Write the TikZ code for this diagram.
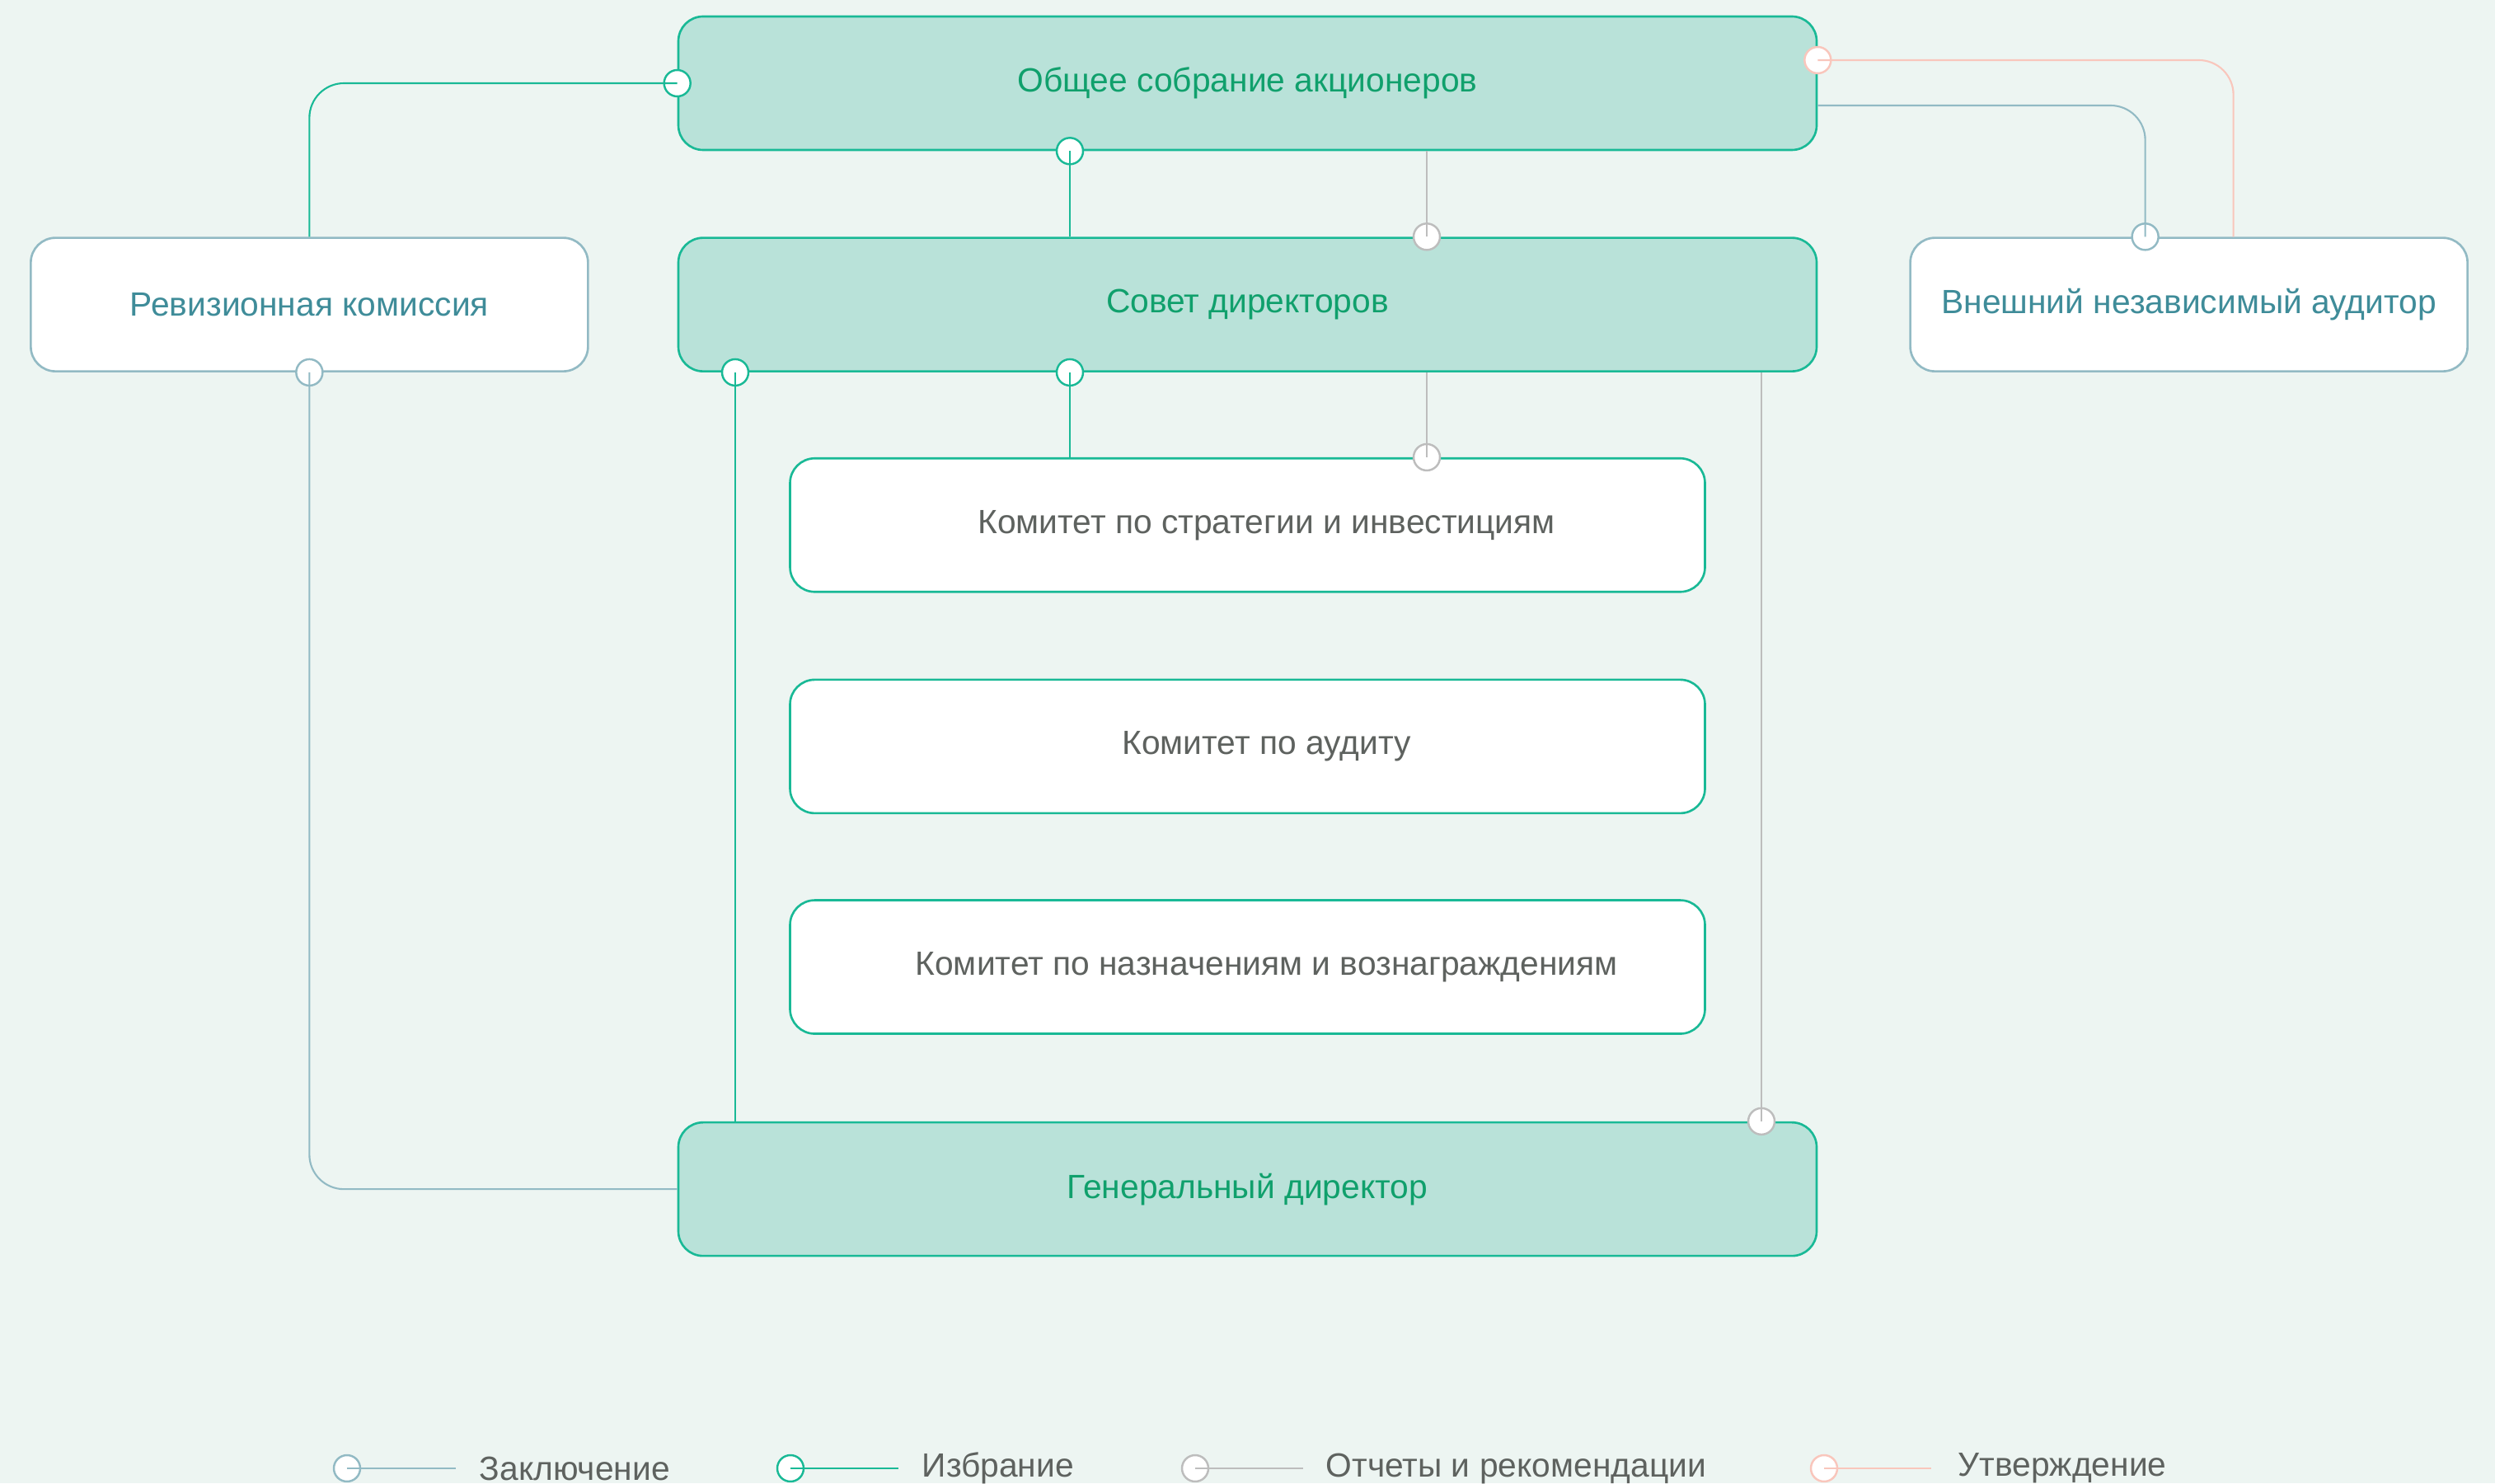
\documentclass[tikz,border=0pt]{standalone}
\usepackage{fontspec}
\setmainfont{Liberation Sans}
\usepackage{xcolor}
\usetikzlibrary{positioning, calc}

\definecolor{bgmint}{HTML}{EDF5F2}
\definecolor{boxfill}{HTML}{B9E2D9}
\definecolor{boxgreen}{HTML}{19B996}
\definecolor{txtgreen}{HTML}{10A06C}
\definecolor{txtblue}{HTML}{3F8C99}
\definecolor{txtgray}{HTML}{5E625F}
\definecolor{lineblue}{HTML}{92BAC4}
\definecolor{linegray}{HTML}{BDBDBD}
\definecolor{linepink}{HTML}{F9C6BC}

\begin{document}
\begin{tikzpicture}[
  node distance=1.03cm and 1.07cm,
  every node/.style={font=\fontsize{11.6}{14}\selectfont},
  mainbox/.style={rectangle, draw=boxgreen, line width=0.75pt, rounded corners=0.3cm, fill=boxfill, text=txtgreen, minimum width=13.81cm, minimum height=1.62cm},
  sidebox/.style={rectangle, draw=lineblue, line width=0.75pt, rounded corners=0.3cm, fill=white, text=txtblue, minimum width=6.76cm, minimum height=1.62cm},
  combox/.style={rectangle, draw=boxgreen, line width=0.75pt, rounded corners=0.3cm, fill=white, text=txtgray, minimum width=11.1cm, minimum height=1.62cm, execute at begin node=\hspace*{0.46cm}},
  endpt/.style={circle, fill=white, line width=0.7pt, minimum size=0.32cm, inner sep=0pt},
  concl/.style={draw=lineblue, line width=0.6pt, rounded corners=0.42cm},
  elect/.style={draw=boxgreen, line width=0.6pt, rounded corners=0.42cm},
  report/.style={draw=linegray, line width=0.6pt},
  approve/.style={draw=linepink, line width=0.6pt, rounded corners=0.42cm},
  legtext/.style={text=txtgray, inner sep=0pt},
]
  \fill[bgmint] (0,0) rectangle (30.27,18);
  \useasboundingbox (0,0) rectangle (30.27,18);

  \node[mainbox] (gsm) at (15.135,16.99) {Общее собрание акционеров};
  \node[mainbox, below=1.04cm of gsm] (board) {Совет директоров};
  \node[sidebox, left=of board] (revcom) {Ревизионная комиссия};
  \node[sidebox, right=1.11cm of board] (extaud) {Внешний независимый аудитор};

  \node[combox, below=of board] (strat) {Комитет по стратегии и инвестициям};
  \node[combox, below=1.04cm of strat] (audcom) {Комитет по аудиту};
  \node[combox, below=of audcom] (nomcom) {Комитет по назначениям и вознаграждениям};
  \node[mainbox, below=1.05cm of nomcom] (ceo) {Генеральный директор};

  % end points
  \node[endpt, draw=boxgreen] (eGsmW) at (gsm.west) {};
  \node[endpt, draw=boxgreen] (eGsmS) at ([xshift=-2.155cm]gsm.south) {};
  \node[endpt, draw=linegray] (eBoardN) at ([xshift=2.175cm]board.north) {};
  \node[endpt, draw=boxgreen] (eBoardSW) at ([xshift=-6.215cm]board.south) {};
  \node[endpt, draw=boxgreen] (eBoardS) at ([xshift=-2.155cm]board.south) {};
  \node[endpt, draw=linegray] (eStrat) at ([xshift=2.175cm]strat.north) {};
  \node[endpt, draw=linegray] (eCeo) at ([xshift=6.235cm]ceo.north) {};
  \node[endpt, draw=lineblue] (eRevS) at (revcom.south) {};
  \node[endpt, draw=lineblue] (eExt) at ([xshift=-0.53cm]extaud.north) {};
  \node[endpt, draw=linepink] (eGsmE) at ([yshift=0.28cm]gsm.east) {};

  % connectors
  \draw[elect] (revcom.north) |- (eGsmW.center);
  \draw[elect] (board.north -| eGsmS) -- (eGsmS.center);
  \draw[elect] (ceo.north -| eBoardSW) -- (eBoardSW.center);
  \draw[elect] (strat.north -| eBoardS) -- (eBoardS.center);
  \draw[report] (gsm.south -| eBoardN) -- (eBoardN.center);
  \draw[report] (board.south -| eStrat) -- (eStrat.center);
  \draw[report] (board.south -| eCeo) -- (eCeo.center);
  \draw[concl] (ceo.west) -| (eRevS.center);
  \draw[concl] ([yshift=-0.27cm]gsm.east) -| (eExt.center);
  \draw[approve] ([xshift=0.54cm]extaud.north) |- (eGsmE.center);

  % legend
  \node[endpt, draw=lineblue] (lg1) at (4.21,0.18) {};
  \draw[concl] (lg1.center) -- ++(1.32,0) coordinate (lg1e);
  \node[legtext, right=0.28cm of lg1e] (lt1) {Заключение};
  \node[endpt, draw=boxgreen] (lg2) at (9.59,0.18) {};
  \draw[elect] (lg2.center) -- ++(1.31,0) coordinate (lg2e);
  \node[legtext, right=0.28cm of lg2e] (lt2) {Избрание};
  \node[endpt, draw=linegray] (lg3) at (14.50,0.18) {};
  \draw[report] (lg3.center) -- ++(1.31,0) coordinate (lg3e);
  \node[legtext, right=0.27cm of lg3e] (lt3) {Отчеты и рекомендации};
  \node[endpt, draw=linepink] (lg4) at (22.13,0.18) {};
  \draw[approve] (lg4.center) -- ++(1.30,0) coordinate (lg4e);
  \node[legtext, right=0.32cm of lg4e] (lt4) {Утверждение};
\end{tikzpicture}
\end{document}
